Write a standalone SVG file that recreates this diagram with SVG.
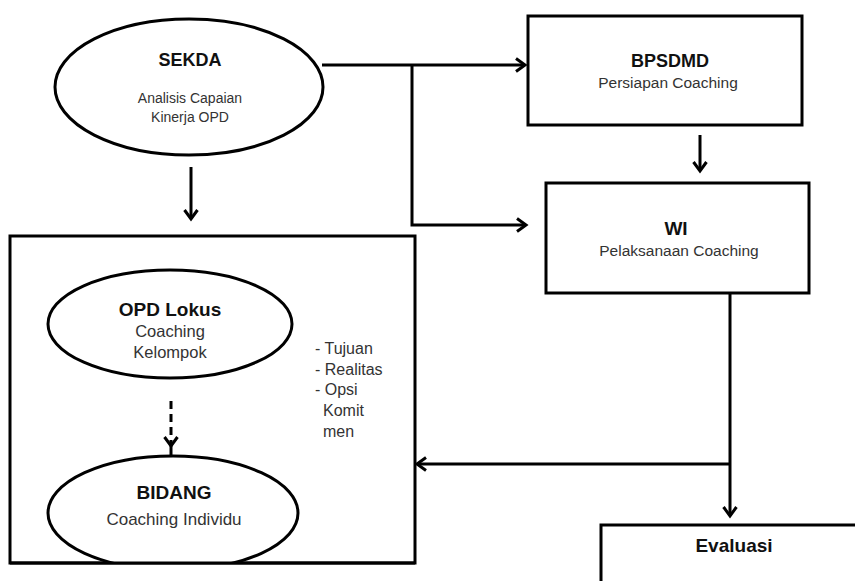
<svg xmlns="http://www.w3.org/2000/svg" width="855" height="581" viewBox="0 0 855 581">
<defs>
<marker id="chev" markerUnits="userSpaceOnUse" markerWidth="20" markerHeight="20" viewBox="-12 -10 14 20" refX="0" refY="0" orient="auto">
<path d="M-9,-6.5 L0,0 L-9,6.5" fill="none" stroke="#000" stroke-width="3" stroke-linejoin="miter"/>
</marker>
<clipPath id="boxclip"><rect x="10" y="236" width="405" height="327"/></clipPath>
</defs>
<style>
.shape{fill:#fff;stroke:#000;stroke-width:3}
.line{fill:none;stroke:#000;stroke-width:3}
.t{font-family:"Liberation Sans",Arial,sans-serif;fill:#333;text-anchor:middle}
.b{font-family:"Liberation Sans",Arial,sans-serif;font-weight:bold;fill:#111;text-anchor:middle}
.n{font-family:"Liberation Sans",Arial,sans-serif;fill:#333}
</style>
<rect width="855" height="581" fill="#fff"/>
<g id="container">
<rect class="shape" x="10" y="236" width="405" height="327"/>
</g>
<g id="sekda">
<ellipse class="shape" cx="189" cy="87" rx="134" ry="68"/>
<text class="b" x="190" y="66" font-size="18">SEKDA</text>
<text class="t" x="190" y="103" font-size="14">Analisis Capaian</text>
<text class="t" x="190" y="122" font-size="14">Kinerja OPD</text>
</g>
<g id="bpsdmd">
<rect class="shape" x="528" y="16" width="274" height="109"/>
<text class="b" x="670" y="67" font-size="18">BPSDMD</text>
<text class="t" x="668" y="88" font-size="15.5">Persiapan Coaching</text>
</g>
<g id="wi">
<rect class="shape" x="546" y="183" width="263" height="110"/>
<text class="b" x="676" y="235" font-size="19">WI</text>
<text class="t" x="679" y="256" font-size="15.5">Pelaksanaan Coaching</text>
</g>
<g id="opd-lokus">
<ellipse class="shape" cx="170" cy="324" rx="122" ry="54"/>
<text class="b" x="170" y="316" font-size="19">OPD Lokus</text>
<text class="t" x="170" y="337" font-size="16.5">Coaching</text>
<text class="t" x="170" y="358" font-size="16.5">Kelompok</text>
</g>
<g id="bidang">
<g clip-path="url(#boxclip)">
<ellipse class="shape" cx="173" cy="513" rx="125" ry="57"/>
</g>
<path class="line" d="M10,563 H415"/>
<text class="b" x="174" y="499" font-size="19">BIDANG</text>
<text class="t" x="174" y="525" font-size="17">Coaching Individu</text>
</g>
<g id="notes">
<text class="n" x="315" y="354" font-size="16">- Tujuan</text>
<text class="n" x="315" y="375" font-size="16">- Realitas</text>
<text class="n" x="315" y="395" font-size="16">- Opsi</text>
<text class="n" x="323" y="416" font-size="16">Komit</text>
<text class="n" x="323" y="437" font-size="16">men</text>
</g>
<g id="evaluasi">
<path class="line" d="M601,581 V525 H855"/>
<text class="b" x="734" y="552" font-size="19">Evaluasi</text>
</g>
<g id="connectors">
<path class="line" d="M322,65 H525" marker-end="url(#chev)"/>
<path class="line" d="M412,65 V225 H526" marker-end="url(#chev)"/>
<path class="line" d="M191,167 V219" marker-end="url(#chev)"/>
<path class="line" d="M700,135 V171" marker-end="url(#chev)"/>
<path class="line" d="M730,293 V516" marker-end="url(#chev)"/>
<path class="line" d="M730,464 H417" marker-end="url(#chev)"/>
<path class="line" d="M171,401 V446" stroke-dasharray="8,5" marker-end="url(#chev)"/>
<path class="line" d="M171,446 V456"/>
</g>
</svg>
